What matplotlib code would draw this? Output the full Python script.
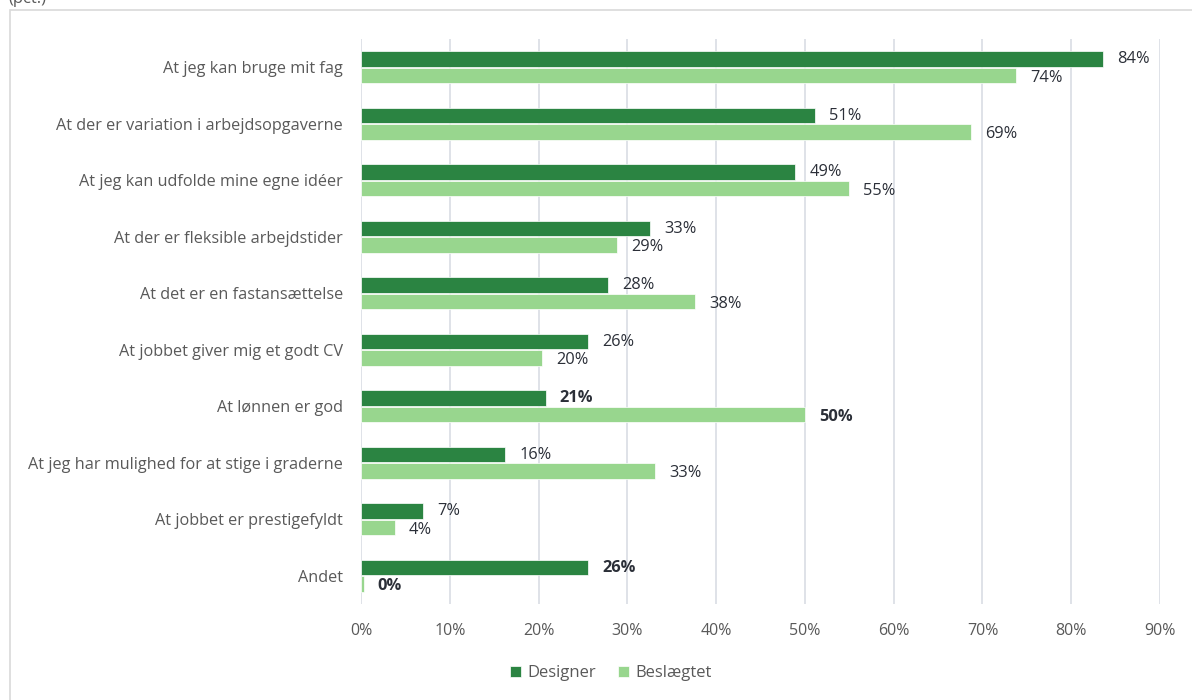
import matplotlib
matplotlib.use("Agg")
import matplotlib.pyplot as plt
from matplotlib.patches import Rectangle
import numpy as np

plt.rcParams['font.family'] = ['Open Sans', 'DejaVu Sans']

categories = [
    "At jeg kan bruge mit fag",
    "At der er variation i arbejdsopgaverne",
    "At jeg kan udfolde mine egne idéer",
    "At der er fleksible arbejdstider",
    "At det er en fastansættelse",
    "At jobbet giver mig et godt CV",
    "At lønnen er god",
    "At jeg har mulighed for at stige i graderne",
    "At jobbet er prestigefyldt",
    "Andet",
]
designer = [83.6, 51.1, 48.9, 32.6, 27.8, 25.6, 20.8, 16.2, 7.0, 25.6]
beslaegtet = [73.8, 68.7, 55.0, 28.8, 37.6, 20.4, 50.0, 33.1, 3.8, 0.3]
bold_rows = [6, 9]
series_names = ["Designer", "Beslægtet"]
xticks = [0, 10, 20, 30, 40, 50, 60, 70, 80, 90]

c_dark = "#2b8442"
c_light = "#98d68e"
txt_gray = "#595959"
lab_col = "#2b2f38"

fig = plt.figure(figsize=(11.92, 7.0), dpi=100)
ax = fig.add_axes([361/1192, 1-604/700, (1160-361)/1192, (604-39)/700])

n = len(categories)
y = np.arange(n)
h = 0.27
gap = 0.02
bd = ax.barh(y - (h/2 + gap/2), designer, height=h, color=c_dark, edgecolor="white", linewidth=0.5, label=series_names[0], zorder=3)
bl = ax.barh(y + (h/2 + gap/2), beslaegtet, height=h, color=c_light, edgecolor="white", linewidth=0.5, label=series_names[1], zorder=3)

for i in range(n):
    fw = 'bold' if i in bold_rows else 'normal'
    ax.text(designer[i] + 1.6, y[i] - (h/2 + gap/2), f"{designer[i]:.0f}%", va='center', ha='left',
            fontsize=11.8, color=lab_col, fontweight=fw)
    ax.text(beslaegtet[i] + 1.6, y[i] + (h/2 + gap/2) + 0.04, f"{beslaegtet[i]:.0f}%", va='center', ha='left',
            fontsize=11.8, color=lab_col, fontweight=fw)

ax.set_ylim(n - 0.5, -0.5)
ax.set_xlim(0, 90)
ax.set_yticks(y)
ax.set_yticklabels(categories, fontsize=11.7, color=txt_gray)
ax.set_xticks(xticks)
ax.set_xticklabels([f"{t}%" for t in xticks], fontsize=11.5, color=txt_gray)
ax.tick_params(axis='both', length=0)
ax.tick_params(axis='y', pad=13)
ax.tick_params(axis='x', pad=14)
for s in ax.spines.values():
    s.set_visible(False)
ax.grid(axis='x', color="#dcdfe6", linewidth=1.3, zorder=0)
ax.set_axisbelow(True)

leg = fig.legend(handles=[bd, bl], labels=series_names, loc='center', bbox_to_anchor=(611/1192, 1-673/700),
                 ncol=2, frameon=False, fontsize=12, handlelength=0.65, handleheight=0.65,
                 handletextpad=0.4, columnspacing=1.3)
for t in leg.get_texts():
    t.set_color(txt_gray)

# outer frame (cropped)
fig.patches.append(Rectangle((10/1192, -0.1), 1.2, 1.1 - 10/700, transform=fig.transFigure,
                             fill=False, edgecolor="#d9d9d9", linewidth=1.2, zorder=0))
fig.text(8/1192, 1 - 3/700, "(pct.)", fontsize=12, color=txt_gray, va='baseline', ha='left')

fig.savefig("out.png", dpi=100)
